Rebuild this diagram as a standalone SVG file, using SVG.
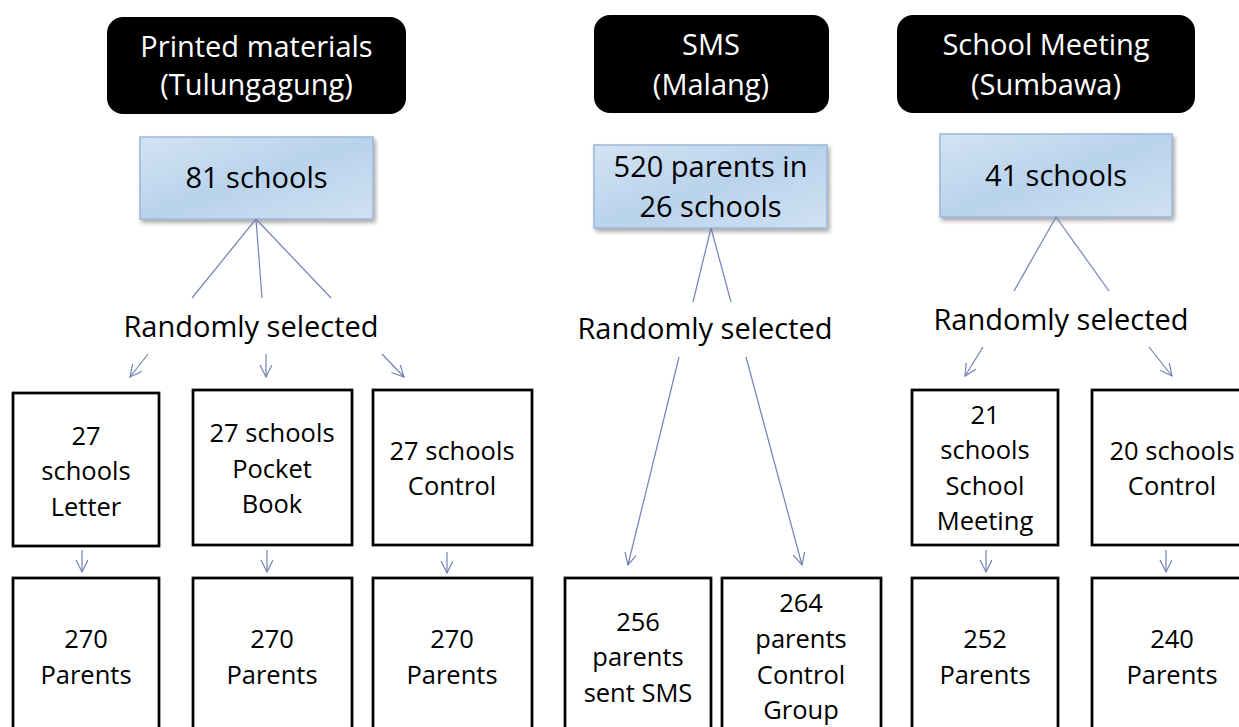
<svg xmlns="http://www.w3.org/2000/svg" width="1239" height="727" viewBox="0 0 1239 727">
<defs>
  <linearGradient id="blueFill" x1="0" y1="0" x2="1" y2="1">
    <stop offset="0" stop-color="#d3e3f3"/>
    <stop offset="0.5" stop-color="#b9d3ec"/>
    <stop offset="1" stop-color="#d0e1f2"/>
  </linearGradient>
  <filter id="shadow" x="-10%" y="-10%" width="130%" height="140%">
    <feDropShadow dx="2" dy="3" stdDeviation="2" flood-color="#000" flood-opacity="0.35"/>
  </filter>
  <marker id="arrow" markerWidth="14" markerHeight="14" refX="12" refY="6" orient="auto" markerUnits="userSpaceOnUse">
    <path d="M0,0 L12,6 L0,12" fill="none" stroke="#7282b4" stroke-width="1.2"/>
  </marker>
</defs>
<style>
  .title { fill: #000; }
  .titletext { font-family: "Open Sans", "Liberation Sans", sans-serif; font-size: 29px; fill: #fff; text-anchor: middle; }
  .blue { fill: url(#blueFill); stroke: #9db6d8; stroke-width: 1.5; filter: url(#shadow); }
  .big { font-family: "Open Sans", "Liberation Sans", sans-serif; font-size: 29px; fill: #000; text-anchor: middle; }
  .box { fill: #fff; stroke: #000; stroke-width: 2.75; }
  .small { font-family: "Open Sans", "Liberation Sans", sans-serif; font-size: 25.5px; fill: #000; text-anchor: middle; }
  .conn { stroke: #7282b4; stroke-width: 1.2; fill: none; }
  .arr { stroke: #7282b4; stroke-width: 1.2; fill: none; marker-end: url(#arrow); }
</style>
<rect width="1239" height="727" fill="#fff"/>

<!-- Title nodes -->
<g id="title-printed">
  <rect class="title" x="107" y="17" width="299" height="97" rx="16"/>
  <text class="titletext" x="256.5" y="57">Printed materials</text>
  <text class="titletext" x="256.5" y="95">(Tulungagung)</text>
</g>
<g id="title-sms">
  <rect class="title" x="594" y="15" width="235" height="98" rx="16"/>
  <text class="titletext" x="711" y="55">SMS</text>
  <text class="titletext" x="711" y="95">(Malang)</text>
</g>
<g id="title-meeting">
  <rect class="title" x="897" y="15" width="298" height="98" rx="16"/>
  <text class="titletext" x="1046" y="55">School Meeting</text>
  <text class="titletext" x="1046" y="95">(Sumbawa)</text>
</g>

<!-- Blue population nodes -->
<g id="pop-81">
  <rect class="blue" x="140" y="137" width="233" height="82"/>
  <text class="big" x="256.5" y="188">81 schools</text>
</g>
<g id="pop-520">
  <rect class="blue" x="594" y="145" width="233" height="83"/>
  <text class="big" x="710.5" y="177">520 parents in</text>
  <text class="big" x="710.5" y="217">26 schools</text>
</g>
<g id="pop-41">
  <rect class="blue" x="940" y="134" width="232" height="83"/>
  <text class="big" x="1056" y="186">41 schools</text>
</g>

<!-- Randomly selected labels -->
<g id="rand-1"><text class="big" x="251" y="337">Randomly selected</text></g>
<g id="rand-2"><text class="big" x="705" y="339">Randomly selected</text></g>
<g id="rand-3"><text class="big" x="1061" y="330">Randomly selected</text></g>

<!-- Row 2 nodes -->
<g id="letter">
  <rect class="box" x="13" y="393" width="146" height="153"/>
  <text class="small" x="86" y="445">27</text>
  <text class="small" x="86" y="480">schools</text>
  <text class="small" x="86" y="516">Letter</text>
</g>
<g id="pocketbook">
  <rect class="box" x="193" y="390" width="159" height="155"/>
  <text class="small" x="272" y="442">27 schools</text>
  <text class="small" x="272" y="478">Pocket</text>
  <text class="small" x="272" y="513">Book</text>
</g>
<g id="control-1">
  <rect class="box" x="373" y="390" width="159" height="155"/>
  <text class="small" x="452" y="460">27 schools</text>
  <text class="small" x="452" y="495">Control</text>
</g>
<g id="meeting">
  <rect class="box" x="912" y="390" width="146" height="155"/>
  <text class="small" x="985" y="424">21</text>
  <text class="small" x="985" y="459">schools</text>
  <text class="small" x="985" y="495">School</text>
  <text class="small" x="985" y="530">Meeting</text>
</g>
<g id="control-3">
  <rect class="box" x="1092" y="390" width="160" height="155"/>
  <text class="small" x="1172" y="460">20 schools</text>
  <text class="small" x="1172" y="495">Control</text>
</g>

<!-- Row 3 nodes -->
<g id="parents-letter">
  <rect class="box" x="13" y="578" width="146" height="170"/>
  <text class="small" x="86" y="648">270</text>
  <text class="small" x="86" y="684">Parents</text>
</g>
<g id="parents-pocket">
  <rect class="box" x="193" y="578" width="159" height="170"/>
  <text class="small" x="272" y="648">270</text>
  <text class="small" x="272" y="684">Parents</text>
</g>
<g id="parents-control-1">
  <rect class="box" x="373" y="578" width="159" height="170"/>
  <text class="small" x="452" y="648">270</text>
  <text class="small" x="452" y="684">Parents</text>
</g>
<g id="parents-sms">
  <rect class="box" x="565" y="578" width="146" height="170"/>
  <text class="small" x="638" y="631">256</text>
  <text class="small" x="638" y="666">parents</text>
  <text class="small" x="638" y="702">sent SMS</text>
</g>
<g id="parents-sms-control">
  <rect class="box" x="722" y="578" width="159" height="170"/>
  <text class="small" x="801" y="612">264</text>
  <text class="small" x="801" y="648">parents</text>
  <text class="small" x="801" y="684">Control</text>
  <text class="small" x="801" y="719">Group</text>
</g>
<g id="parents-meeting">
  <rect class="box" x="912" y="578" width="146" height="170"/>
  <text class="small" x="985" y="648">252</text>
  <text class="small" x="985" y="684">Parents</text>
</g>
<g id="parents-control-3">
  <rect class="box" x="1092" y="578" width="160" height="170"/>
  <text class="small" x="1172" y="648">240</text>
  <text class="small" x="1172" y="684">Parents</text>
</g>

<!-- Connectors -->
<g id="connectors">
  <line class="conn" x1="256" y1="219" x2="192" y2="298"/>
  <line class="conn" x1="256" y1="219" x2="262" y2="298"/>
  <line class="conn" x1="256" y1="219" x2="331" y2="298"/>
  <line class="arr" x1="148" y1="354" x2="130" y2="377"/>
  <line class="arr" x1="266" y1="354" x2="266" y2="377"/>
  <line class="arr" x1="382" y1="354" x2="404" y2="377"/>

  <line class="conn" x1="711" y1="228" x2="693" y2="302"/>
  <line class="conn" x1="711" y1="228" x2="731" y2="302"/>
  <line class="arr" x1="679" y1="357" x2="628" y2="565"/>
  <line class="arr" x1="746" y1="357" x2="802" y2="565"/>

  <line class="conn" x1="1056" y1="217" x2="1014" y2="291"/>
  <line class="conn" x1="1056" y1="217" x2="1109" y2="291"/>
  <line class="arr" x1="983" y1="347" x2="965" y2="376"/>
  <line class="arr" x1="1149" y1="347" x2="1172" y2="376"/>

  <line class="arr" x1="82" y1="550" x2="82" y2="572"/>
  <line class="arr" x1="267" y1="550" x2="267" y2="572"/>
  <line class="arr" x1="447" y1="552" x2="447" y2="573"/>
  <line class="arr" x1="986" y1="550" x2="986" y2="572"/>
  <line class="arr" x1="1166" y1="550" x2="1166" y2="572"/>
</g>
</svg>
